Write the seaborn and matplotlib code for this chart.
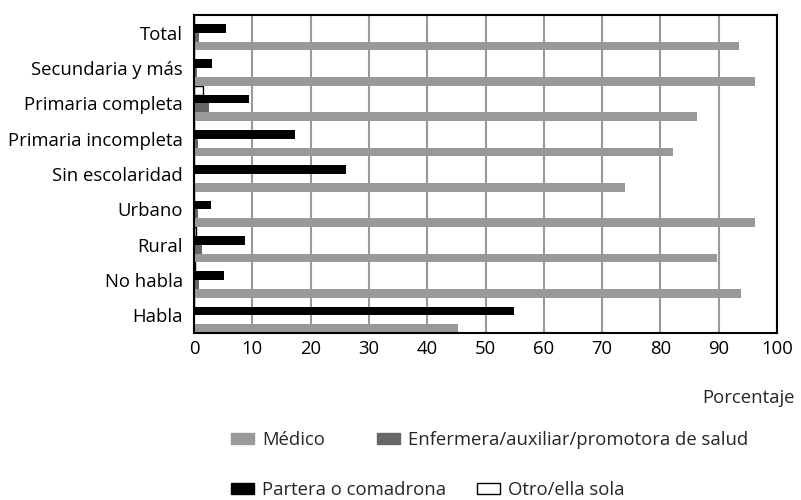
import pandas as pd
import numpy as np
import matplotlib
matplotlib.use("Agg")
import matplotlib.pyplot as plt
import seaborn as sns
from matplotlib.patches import Patch

categorias = ["Total", "Secundaria y más", "Primaria completa", "Primaria incompleta",
              "Sin escolaridad", "Urbano", "Rural", "No habla", "Habla"]
medico = [93.4, 96.3, 86.3, 82.1, 74.0, 96.3, 89.7, 93.8, 45.3]
enfermera = [0.8, 0.6, 2.5, 0.7, 0.0, 0.7, 1.3, 0.8, 0.0]
partera = [5.5, 3.1, 9.4, 17.3, 26.0, 2.9, 8.7, 5.1, 54.9]
otro = [0.0, 0.0, 1.6, 0.0, 0.0, 0.0, 0.4, 0.2, 0.0]

series = ["Médico", "Enfermera/auxiliar/promotora de salud",
          "Partera o comadrona", "Otro/ella sola"]
colores = {"Médico": "#999999",
           "Enfermera/auxiliar/promotora de salud": "#666666",
           "Partera o comadrona": "#000000",
           "Otro/ella sola": "#ffffff"}

df = pd.DataFrame({"categoria": categorias * 4,
                   "serie": np.repeat(series, len(categorias)),
                   "valor": medico + enfermera + partera + otro})

sns.set_style("white")
plt.rcParams["font.family"] = ["Open Sans", "DejaVu Sans"]
fs = 13.3

fig = plt.figure(figsize=(8.01, 5.0), dpi=100)
ax = fig.add_axes([194 / 801, 1 - 333 / 500, (777 - 194) / 801, (333 - 15) / 500])

orden_barras = ["Otro/ella sola", "Partera o comadrona",
                "Enfermera/auxiliar/promotora de salud", "Médico"]
sns.barplot(data=df, y="categoria", x="valor", hue="serie", order=categorias,
            hue_order=orden_barras, palette=colores, orient="h", width=1.0,
            gap=0, saturation=1, legend=False, ax=ax)

for cont, nombre in zip(ax.containers, orden_barras):
    for bar in cont:
        if nombre == "Otro/ella sola":
            bar.set_edgecolor("black")
            bar.set_linewidth(1.0)
        else:
            bar.set_linewidth(0)

ax.set_xlim(0, 100)
ax.set_xticks(range(0, 101, 10))
ax.set_ylim(len(categorias) - 0.5, -0.5)
ax.grid(axis="x", color="#999999", linewidth=1.5)
ax.set_axisbelow(True)
for sp in ax.spines.values():
    sp.set_color("black")
    sp.set_linewidth(1.5)
ax.tick_params(axis="both", length=0, labelsize=fs, colors="black")
ax.tick_params(axis="y", pad=8)
ax.tick_params(axis="x", pad=5)
ax.set_xlabel("")
ax.set_ylabel("")

fig.text(795 / 801, 1 - 398 / 500, "Porcentaje", ha="right", va="center", fontsize=fs)


def h(nombre):
    borde = "black" if nombre == "Otro/ella sola" else colores[nombre]
    return Patch(facecolor=colores[nombre], edgecolor=borde, linewidth=1.0)


# legend entries placed where they sit in the original (flow layout)
pos_leyenda = [(231, 440), (377, 440), (231, 490), (477, 490)]
for nombre, (px, py) in zip(series, pos_leyenda):
    fig.legend([h(nombre)], [nombre], loc="center left",
               bbox_to_anchor=(px / 801, 1 - py / 500), frameon=False,
               fontsize=fs, handlelength=1.25, handleheight=0.55, handletextpad=0.45,
               borderpad=0, borderaxespad=0)

fig.savefig("out.png", dpi=100)
